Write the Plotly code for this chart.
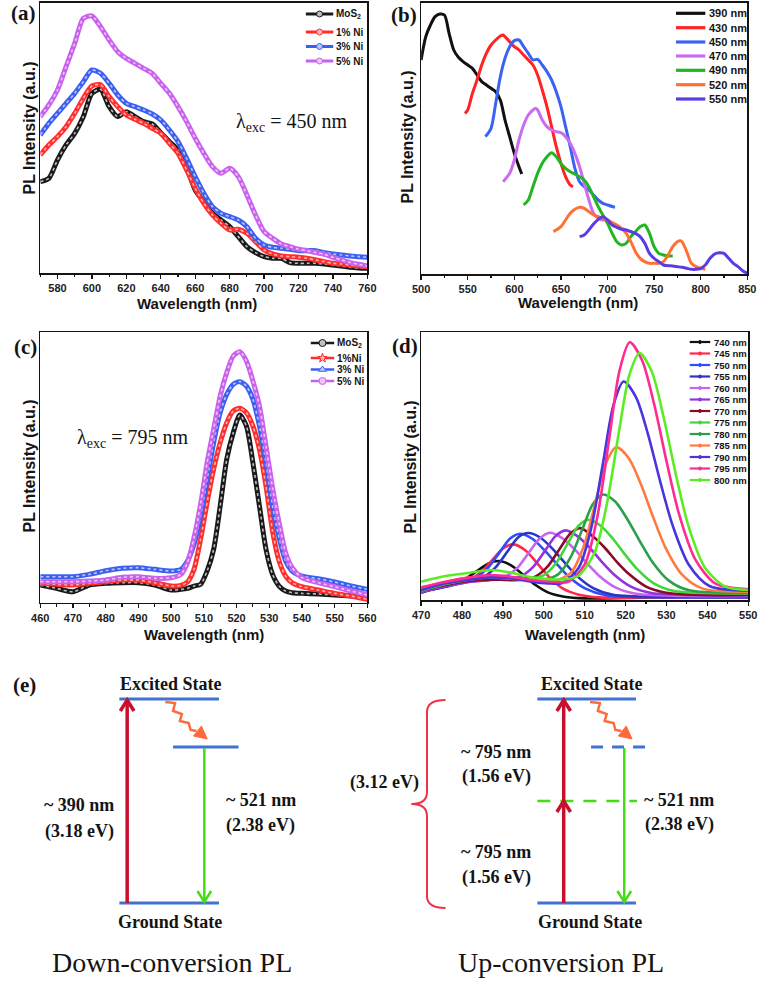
import plotly.graph_objects as go

# ======================= DATA =======================
# ---- panel (a): PL spectra, excitation 450 nm ----
A_WL = [570, 575, 580, 585, 590, 595, 600, 605, 610, 615, 620, 625, 630, 635, 640, 645, 650, 655, 660, 665,
        670, 675, 680, 685, 690, 695, 700, 705, 710, 715, 720, 725, 730, 735, 740, 745, 750, 755, 760]
A_MOS2 = [275, 285, 340, 385, 420, 470, 540, 552, 500, 470, 485, 470, 455, 448, 422, 395, 370, 320, 250, 215,
          180, 160, 140, 110, 80, 62, 50, 45, 45, 32, 30, 30, 30, 28, 25, 22, 18, 16, 15]
A_NI1 = [355, 385, 410, 440, 480, 525, 562, 566, 530, 500, 475, 462, 450, 435, 420, 390, 360, 310, 255, 210,
         175, 150, 130, 132, 120, 95, 70, 58, 52, 50, 48, 45, 40, 35, 30, 28, 25, 22, 20]
A_NI3 = [415, 450, 480, 510, 540, 575, 610, 600, 570, 535, 510, 500, 490, 478, 460, 430, 395, 345, 290, 240,
         200, 180, 170, 160, 140, 105, 85, 78, 75, 72, 68, 68, 68, 62, 58, 55, 52, 50, 48]
A_NI5 = [470, 505, 550, 620, 690, 765, 772, 740, 700, 665, 645, 630, 615, 600, 570, 540, 500, 455, 405, 360,
         320, 300, 315, 290, 235, 175, 125, 105, 88, 80, 72, 68, 62, 57, 48, 40, 32, 27, 22]
A_LABELS = ['MoS<sub>2</sub>', '1% Ni', '3% Ni', '5% Ni']

# ---- panel (b): PL spectra at different excitation wavelengths ----
B_390_X = [500, 505, 510, 515, 520, 525, 530, 535, 540, 545, 550, 555, 560, 565, 570, 575, 580, 585, 590, 595,
           600, 605, 608]
B_390_Y = [642, 712, 747, 772, 780, 777, 722, 672, 650, 637, 627, 617, 597, 577, 567, 557, 547, 522, 462, 412,
           362, 322, 300]
B_430_X = [547, 550, 555, 560, 565, 570, 575, 580, 585, 588, 590, 595, 600, 605, 610, 615, 620, 625, 630, 635,
           640, 645, 650, 655, 660, 663]
B_430_Y = [482, 492, 542, 582, 627, 662, 687, 702, 714, 717, 712, 697, 682, 672, 657, 642, 627, 597, 552, 502,
           442, 382, 332, 292, 267, 262]
B_450_X = [569, 575, 580, 585, 590, 595, 600, 605, 610, 615, 620, 625, 630, 635, 640, 645, 650, 655, 660, 665,
           670, 675, 680, 685, 690, 695, 700, 708]
B_450_Y = [412, 437, 512, 592, 647, 682, 700, 702, 682, 662, 642, 644, 627, 607, 582, 547, 502, 442, 382, 317,
           277, 262, 252, 237, 222, 212, 207, 200]
B_470_X = [588, 595, 600, 605, 610, 615, 620, 623, 625, 630, 635, 640, 645, 650, 655, 660, 665, 670, 675, 680,
           685, 690, 695, 700, 705, 710, 715, 720, 725, 730]
B_470_Y = [277, 302, 342, 402, 447, 477, 492, 497, 492, 462, 442, 432, 427, 424, 412, 392, 362, 322, 272, 222,
           182, 167, 162, 162, 152, 144, 137, 132, 127, 122]
B_490_X = [610, 615, 620, 625, 630, 635, 640, 645, 650, 655, 660, 665, 670, 675, 680, 685, 690, 695, 700, 705,
           710, 715, 720, 725, 730, 735, 740, 745, 750, 755, 760, 765, 770]
B_490_Y = [207, 222, 262, 302, 332, 352, 364, 352, 332, 317, 307, 300, 292, 282, 262, 232, 202, 177, 152, 122,
           97, 87, 92, 112, 127, 142, 147, 122, 82, 62, 57, 54, 54]
B_520_X = [642, 650, 655, 660, 665, 670, 675, 680, 685, 690, 695, 700, 705, 710, 715, 720, 725, 730, 735, 740,
           745, 750, 755, 760, 765, 770, 775, 778, 780, 785, 790, 795, 800, 805]
B_520_Y = [127, 142, 162, 182, 194, 200, 197, 187, 177, 172, 167, 162, 154, 147, 137, 122, 97, 67, 47, 37,
           32, 32, 32, 37, 57, 82, 97, 100, 97, 67, 32, 22, 17, 14]
B_550_X = [670, 675, 680, 685, 690, 695, 700, 705, 710, 715, 720, 725, 730, 735, 740, 745, 750, 755, 760, 765,
           770, 775, 780, 785, 790, 795, 800, 805, 810, 815, 820, 825, 830, 835, 840, 845, 850]
B_550_Y = [112, 117, 132, 150, 164, 172, 162, 147, 140, 134, 132, 127, 122, 112, 92, 62, 47, 37, 27, 25,
           24, 22, 20, 17, 14, 14, 17, 27, 47, 60, 64, 62, 47, 32, 22, 10, 2]
B_LABELS = ['390 nm', '430 nm', '450 nm', '470 nm', '490 nm', '520 nm', '550 nm']

# ---- panel (c): PL spectra, excitation 795 nm ----
C_WL = [460, 465, 470, 475, 480, 485, 490, 495, 500, 503, 505, 507, 509, 511, 513, 515, 517, 519, 521, 523,
        525, 527, 529, 531, 533, 535, 537, 540, 545, 550, 555, 560]
C_MOS2 = [53, 43, 33, 53, 58, 60, 60, 53, 38, 40, 43, 50, 55, 95, 160, 290, 430, 510, 563, 530,
          420, 290, 160, 85, 50, 35, 30, 28, 26, 23, 20, 18]
C_NI1 = [58, 55, 53, 58, 63, 68, 68, 60, 50, 52, 62, 100, 190, 300, 400, 480, 540, 575, 583, 570,
         530, 460, 350, 215, 125, 80, 60, 48, 38, 28, 20, 10]
C_NI3 = [78, 78, 78, 85, 96, 103, 105, 100, 95, 100, 125, 175, 260, 370, 480, 570, 625, 655, 663, 650,
         610, 530, 420, 290, 195, 125, 95, 80, 72, 62, 50, 40]
C_NI5 = [63, 63, 63, 65, 68, 76, 78, 73, 75, 85, 120, 195, 295, 420, 520, 620, 690, 740, 753, 725,
         665, 590, 470, 345, 240, 150, 105, 75, 60, 48, 35, 23]
C_LABELS = ['MoS<sub>2</sub>', '1%Ni', '3% Ni', '5% Ni']

# ---- panel (d): up-conversion PL at different excitation wavelengths ----
D_740_X = [470, 474, 478, 481, 484, 486.5, 489, 492, 495, 498, 501, 505, 510, 520, 530, 540, 550]
D_740_Y = [22, 36, 47, 65, 90, 110, 117, 104, 75, 45, 23, 10, 5, 6, 8, 8, 8]
D_745_X = [470, 477.6, 481.6, 484.6, 487.6, 490.1, 492.6, 495.6, 498.6, 501.6, 504.6, 508.6, 513.6, 530, 550]
D_745_Y = [28, 46, 59, 83, 123, 156, 167, 148, 107, 65, 35, 16, 8, 8, 8]
D_750_X = [470, 476, 479.2, 483.2, 486.2, 489.2, 491.7, 494.2, 497.2, 500.2, 503.2, 506.2, 510.2, 515.2, 530, 550]
D_750_Y = [25, 40, 50, 66, 95, 143, 184, 199, 184, 149, 108, 69, 34, 14, 8, 8]
D_755_X = [470, 476, 481.2, 485.2, 488.2, 491.2, 493.7, 496.2, 499.2, 502.2, 505.2, 508.2, 512.2, 517.2, 530, 550]
D_755_Y = [25, 40, 54, 69, 98, 147, 188, 201, 187, 153, 111, 71, 35, 15, 10, 10]
D_760_X = [470, 476, 482, 486.5, 490.5, 493.5, 496.5, 499, 501.5, 504.5, 507.5, 510.5, 513.5, 517.5, 522.5, 535, 550]
D_760_Y = [25, 42, 55, 60, 70, 96, 145, 185, 202, 186, 153, 111, 73, 38, 19, 12, 12]
D_765_X = [470, 476, 482, 487, 490.3, 494.3, 497.3, 500.3, 502.8, 505.3, 508.3, 511.3, 514.3, 517.3, 521.3, 526.3,
           540, 550]
D_765_Y = [25, 42, 55, 60, 62, 71, 98, 148, 191, 209, 191, 156, 113, 75, 40, 21, 14, 14]
D_770_X = [470, 476, 482, 487, 491, 493.9, 497.9, 500.9, 503.9, 506.4, 508.9, 511.9, 514.9, 517.9, 520.9, 524.9,
           529.9, 540, 550]
D_770_Y = [28, 45, 58, 62, 60, 60, 70, 100, 154, 198, 216, 192, 157, 114, 77, 41, 22, 15, 16]
D_775_X = [470, 476, 482, 487, 492, 495.9, 499.9, 502.9, 505.9, 508.4, 510.9, 513.9, 516.9, 519.9, 522.9, 526.9,
           531.9, 550]
D_775_Y = [28, 48, 62, 68, 64, 62, 74, 109, 171, 222, 241, 223, 184, 136, 92, 50, 27, 20]
D_780_X = [470, 476, 482, 487, 492, 496, 499.5, 503.5, 506.5, 509.5, 512, 514.5, 517.5, 520.5, 523.5, 526.5,
           530.5, 535.5, 550]
D_780_Y = [30, 50, 65, 70, 66, 60, 60, 77, 127, 215, 288, 317, 295, 241, 176, 115, 59, 29, 22]
D_785_X = [470, 476, 482, 487, 492, 497, 502.7, 506.7, 509.7, 512.7, 515.2, 517.7, 520.7, 523.7, 526.7, 529.7,
           533.7, 538.7, 550]
D_785_Y = [35, 55, 68, 72, 68, 60, 57, 83, 159, 296, 411, 459, 427, 349, 250, 159, 78, 35, 25]
D_790_X = [470, 476, 482, 487, 492, 497, 501, 504.5, 508.5, 511.5, 514.5, 517, 519.5, 522.5, 525.5, 528.5,
           531.5, 535.5, 540.5, 550]
D_790_Y = [30, 50, 62, 68, 65, 55, 50, 51, 96, 211, 413, 584, 656, 610, 497, 354, 224, 105, 42, 28]
D_795_X = [470, 476, 482, 487, 492, 497, 502, 506, 510, 513, 516, 518.5, 521, 524, 527, 530, 533, 537, 542, 550]
D_795_Y = [38, 55, 68, 75, 70, 60, 55, 55, 107, 244, 485, 688, 774, 721, 587, 417, 261, 123, 49, 32]
D_800_X = [470, 476, 482, 487, 492, 497, 502, 505, 508.4, 512.4, 515.4, 518.4, 520.9, 523.4, 526.4, 529.4,
           532.4, 535.4, 539.4, 544.4, 550]
D_800_Y = [55, 72, 82, 90, 82, 68, 62, 62, 72, 142, 287, 507, 675, 742, 686, 543, 371, 221, 97, 40, 30]
D_LABELS = ['740 nm', '745 nm', '750 nm', '755 nm', '760 nm', '765 nm', '770 nm', '775 nm', '780 nm',
            '785 nm', '790 nm', '795 nm', '800 nm']

# ---- panel (e): energy diagram texts ----
E_DOWN_TEXT = ['Excited State', 'Ground State', '~ 390 nm', '(3.18 eV)', '~ 521 nm', '(2.38 eV)',
               'Down-conversion PL']
E_UP_TEXT = ['Excited State', 'Ground State', '~ 795 nm', '(1.56 eV)', '~ 795 nm', '(1.56 eV)',
             '~ 521 nm', '(2.38 eV)', '(3.12 eV)', 'Up-conversion PL']

# ======================= STYLE =======================
W, H = 769, 981
SANS = 'Liberation Sans, Arial, sans-serif'
SERIF = 'Liberation Serif, Times New Roman, serif'
INK = '#141414'

A_COLORS = ['#1a1a1a', '#ff2e2e', '#3d5ff0', '#c862ee']
A_LIGHT = ['#bfbfbf', '#ffb3b3', '#b9c6ff', '#f0c4fb']
B_COLORS = ['#111111', '#ff2424', '#3b63f2', '#c96cf0', '#22b522', '#ff7034', '#5a3ce6']
D_COLORS = ['#111111', '#ff2a4a', '#2f4cff', '#2a35c8', '#c964f0', '#9333e0', '#8a0a2a', '#3fd83a',
            '#2aa04a', '#ff7a40', '#4a34e0', '#ff2a92', '#5cec24']

fig = go.Figure()


def band(x, y, xa, ya, c, light, w=5.0):
    fig.add_trace(go.Scatter(x=x, y=y, xaxis=xa, yaxis=ya, mode='lines', hoverinfo='skip',
                             line=dict(color=c, width=w, shape='spline', smoothing=0.7)))
    fig.add_trace(go.Scatter(x=x, y=y, xaxis=xa, yaxis=ya, mode='lines', hoverinfo='skip',
                             line=dict(color=light, width=1.6, shape='spline', smoothing=0.7, dash='dot')))


def curve(x, y, xa, ya, c, w):
    fig.add_trace(go.Scatter(x=x, y=y, xaxis=xa, yaxis=ya, mode='lines', hoverinfo='skip',
                             line=dict(color=c, width=w, shape='spline', smoothing=0.8)))


# panel (a)
for ys, c, l in zip([A_MOS2, A_NI1, A_NI3, A_NI5], A_COLORS, A_LIGHT):
    band(A_WL, ys, 'x', 'y', c, l)

# panel (b)
for (xs, ys), c in zip([(B_390_X, B_390_Y), (B_430_X, B_430_Y), (B_450_X, B_450_Y), (B_470_X, B_470_Y),
                        (B_490_X, B_490_Y), (B_520_X, B_520_Y), (B_550_X, B_550_Y)], B_COLORS):
    curve(xs, ys, 'x2', 'y2', c, 3)

# panel (c)
for ys, c, l in zip([C_MOS2, C_NI1, C_NI3, C_NI5], A_COLORS, A_LIGHT):
    band(C_WL, ys, 'x3', 'y3', c, l)

# panel (d)
D_SERIES = [(D_740_X, D_740_Y), (D_745_X, D_745_Y), (D_750_X, D_750_Y), (D_755_X, D_755_Y),
            (D_760_X, D_760_Y), (D_765_X, D_765_Y), (D_770_X, D_770_Y), (D_775_X, D_775_Y),
            (D_780_X, D_780_Y), (D_785_X, D_785_Y), (D_790_X, D_790_Y), (D_795_X, D_795_Y),
            (D_800_X, D_800_Y)]
for (xs, ys), c in zip(D_SERIES, D_COLORS):
    curve(xs, ys, 'x4', 'y4', c, 2.6)


# ---------- axes ----------
def xaxis(x0, x1, y_anchor, rng, dtick, tick0, minor):
    return dict(domain=[x0 / W, x1 / W], range=rng, anchor=y_anchor, showline=True, linecolor=INK,
                linewidth=1.6, mirror=True, ticks='outside', ticklen=4, tickwidth=1.3, tickcolor=INK,
                dtick=dtick, tick0=tick0, showgrid=False, zeroline=False,
                minor=dict(dtick=minor, tick0=tick0, ticks='outside', ticklen=2.5, tickwidth=1.1,
                           tickcolor=INK, showgrid=False),
                tickfont=dict(family=SANS, size=11, color='#222', weight='bold'), fixedrange=True)


def yaxis(top, bottom, x_anchor, rng):
    return dict(domain=[1 - bottom / H, 1 - top / H], range=rng, anchor=x_anchor, showline=True,
                linecolor=INK, linewidth=1.6, mirror=True, ticks='', showticklabels=False,
                showgrid=False, zeroline=False, fixedrange=True)


fig.update_layout(
    xaxis=xaxis(32, 367, 'y', [570, 760], 20, 580, 10),
    yaxis=yaxis(3, 273.3, 'x', [0, 811]),
    xaxis2=xaxis(422, 756, 'y2', [500, 850], 50, 500, 25),
    yaxis2=yaxis(3, 274, 'x2', [0, 813]),
    xaxis3=xaxis(32, 367, 'y3', [460, 560], 10, 460, 5),
    yaxis3=yaxis(332.3, 602.7, 'x3', [0, 811]),
    xaxis4=xaxis(422, 757, 'y4', [470, 550], 10, 470, 5),
    yaxis4=yaxis(332.3, 600, 'x4', [0, 804]),
    xaxis5=dict(domain=[0, 1], range=[0, W], anchor='y5', visible=False, fixedrange=True),
    yaxis5=dict(domain=[0, 1], range=[H, 0], anchor='x5', visible=False, fixedrange=True),
)


def text(x, y, s, size, family=SANS, bold=True, anchor='center', angle=0, color=INK):
    fig.add_annotation(x=x, y=y, xref='x5', yref='y5', text=s, showarrow=False, xanchor=anchor,
                       yanchor='middle', textangle=angle,
                       font=dict(family=family, size=size, color=color, weight='bold' if bold else 'normal'))


# ---------- manual legends ----------
def legend_block(labels, colors, ys, x0, x1, xt, fsize, lw, symbols=None, light=None, msize=5):
    for i, (lab, c, yy) in enumerate(zip(labels, colors, ys)):
        fig.add_trace(go.Scatter(x=[x0, x1], y=[yy, yy], xaxis='x5', yaxis='y5', mode='lines',
                                 hoverinfo='skip', line=dict(color=c, width=lw)))
        if symbols:
            fig.add_trace(go.Scatter(x=[(x0 + x1) / 2], y=[yy], xaxis='x5', yaxis='y5', mode='markers',
                                     hoverinfo='skip',
                                     marker=dict(symbol=symbols[i], size=msize, color=light[i],
                                                 line=dict(color=c, width=1))))
        text(xt, yy, lab, fsize, anchor='left')


legend_block(A_LABELS, A_COLORS, [14, 32, 46.5, 61], 304, 332, 333, 10, 3,
             ['circle'] * 4, A_LIGHT, 6)
legend_block(B_LABELS, B_COLORS, [13.3, 27.7, 42, 56, 70.3, 84.7, 99], 683, 713, 715, 11, 3.2)
legend_block(C_LABELS, A_COLORS, [343, 358, 369.5, 381], 309, 333, 334, 10, 2.5,
             ['circle', 'star', 'triangle-up', 'circle'], A_LIGHT, 7)
legend_block(D_LABELS, D_COLORS, [342 + 11.5 * i for i in range(13)], 697, 718, 720, 9.5, 2.2,
             ['circle'] * 13, D_COLORS, 3)

# ---------- axis titles & panel labels ----------
for cx, cy in [(193, 303), (583, 302), (200, 634), (590, 634)]:
    text(cx, cy, 'Wavelength (nm)', 15)
for cx, cy in [(20, 128), (408, 137), (20, 466), (411, 467)]:
    text(cx, cy, 'PL Intensity (a.u.)', 16, angle=-90)
text(15, 13, '(a)', 21, family=SERIF)
text(404, 15, '(b)', 21, family=SERIF)
text(17, 347, '(c)', 21, family=SERIF)
text(405, 346, '(d)', 21, family=SERIF)
text(16, 685, '(e)', 21, family=SERIF)
text(230, 122, 'λ<sub>exc</sub> = 450 nm', 20, family=SERIF, bold=False, anchor='left')
text(68, 438, 'λ<sub>exc</sub> = 795 nm', 20, family=SERIF, bold=False, anchor='left')

# ---------- panel (e) diagram ----------
BLUE = '#4272d0'
RED = '#c8102e'
GREEN = '#45dc12'
ORANGE = '#ff6a3a'
BRACE = '#ee3348'


def seg(x0, y0, x1, y1, c, w, dash='solid'):
    fig.add_shape(type='line', xref='x5', yref='y5', x0=x0, y0=y0, x1=x1, y1=y1,
                  line=dict(color=c, width=w, dash=dash))


def path(p, c, w, fill=None):
    fig.add_shape(type='path', xref='x5', yref='y5', path=p, line=dict(color=c, width=w),
                  fillcolor=fill if fill else 'rgba(0,0,0,0)')


def arrow(x, y_from, y_to, c, w, head=7, hl=11):
    seg(x, y_from, x, y_to, c, w)
    s = 1 if y_to < y_from else -1
    path(f'M{x - head},{y_to + s * hl} L{x},{y_to} L{x + head},{y_to + s * hl}', c, w)


# energy levels
seg(113, 699, 215, 699, BLUE, 3)
seg(168, 747, 235, 747, BLUE, 3)
seg(113, 903, 215, 903, BLUE, 3)
seg(541, 699, 642, 699, BLUE, 3)
seg(596, 747, 656, 747, BLUE, 3, dash='12px,9px')
seg(541, 801, 643, 801, GREEN, 2.5, dash='13px,10px')
seg(541, 903, 642, 903, BLUE, 3)

# arrows
arrow(121, 903, 700, RED, 3.5)
arrow(200, 748, 902, GREEN, 2.5)
arrow(568, 903, 801, RED, 3.5)
arrow(568, 801, 700, RED, 3.5)
arrow(630, 748, 902, GREEN, 2.5)

# wavy relaxation arrows
path('M160,702 L170,703 L168,711 L177,714 L175,721 L184,723 L186,730 L192,731', ORANGE, 2.5)
path('M203,739 L189,736 L197,726 Z', ORANGE, 1, ORANGE)
path('M595,702 L605,703 L603,711 L612,714 L610,721 L619,723 L621,730 L627,731', ORANGE, 2.5)
path('M638,739 L624,736 L632,726 Z', ORANGE, 1, ORANGE)

# brace
path('M447,700 Q428,700 428,712 L428,792 Q428,804 412,804 Q428,804 428,816 L428,896 Q428,908 447,908',
     BRACE, 2)

# diagram text
text(165, 684, E_DOWN_TEXT[0], 18, family=SERIF)
text(165, 922, E_DOWN_TEXT[1], 18, family=SERIF)
text(72, 805, E_DOWN_TEXT[2], 18, family=SERIF)
text(72, 831, E_DOWN_TEXT[3], 18, family=SERIF)
text(258, 800, E_DOWN_TEXT[4], 18, family=SERIF)
text(258, 825, E_DOWN_TEXT[5], 18, family=SERIF)
text(167, 962, E_DOWN_TEXT[6], 28, family=SERIF, bold=False)

text(596, 684, E_UP_TEXT[0], 18, family=SERIF)
text(595, 922, E_UP_TEXT[1], 18, family=SERIF)
text(499, 752, E_UP_TEXT[2], 18, family=SERIF)
text(499, 776, E_UP_TEXT[3], 18, family=SERIF)
text(499, 852, E_UP_TEXT[4], 18, family=SERIF)
text(499, 877, E_UP_TEXT[5], 18, family=SERIF)
text(686, 800, E_UP_TEXT[6], 18, family=SERIF)
text(687, 824, E_UP_TEXT[7], 18, family=SERIF)
text(384, 782, E_UP_TEXT[8], 18, family=SERIF)
text(565, 962, E_UP_TEXT[9], 28, family=SERIF, bold=False)

fig.update_layout(width=W, height=H, margin=dict(l=0, r=0, t=0, b=0), showlegend=False,
                  paper_bgcolor='white', plot_bgcolor='rgba(0,0,0,0)')

fig.write_html('out.html', config={'displayModeBar': False, 'staticPlot': True},
               post_script="document.body.style.margin='0';document.body.style.overflow='hidden';")
